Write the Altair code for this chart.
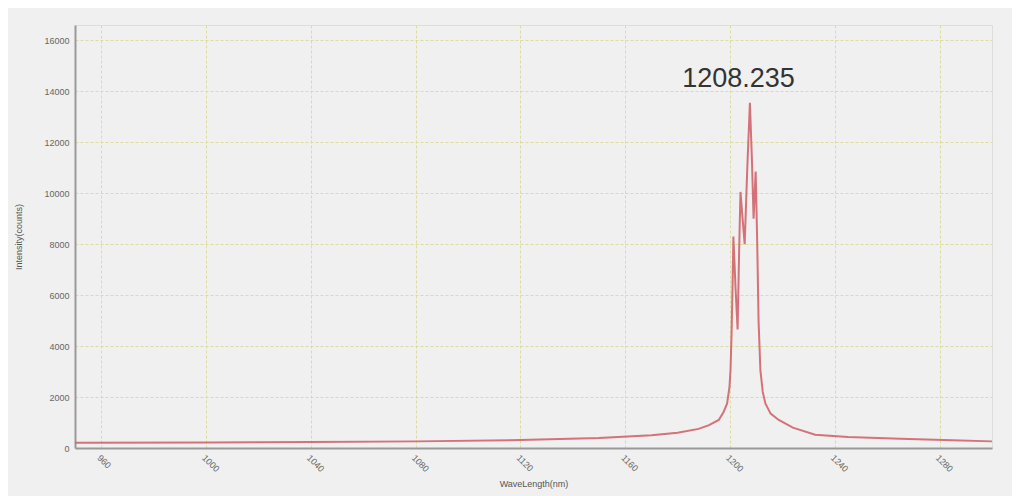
import altair as alt
import pandas as pd

# Spectrum values
wavelength = [950, 1000, 1040, 1080, 1120, 1150, 1170, 1180, 1188, 1192,
              1195.7, 1197.5, 1198.9, 1199.8, 1200.2, 1200.6, 1201.0, 1201.3,
              1202.1, 1202.9, 1203.5, 1204.0, 1204.8, 1205.6, 1206.6, 1207.6,
              1208.4, 1209.0, 1209.8, 1210.4, 1210.9, 1211.6, 1212.5, 1213.5,
              1215.5, 1218.6, 1224, 1232.5, 1245, 1265, 1285, 1300]
intensity = [210, 220, 235, 260, 310, 390, 500, 600, 750, 900,
             1100, 1400, 1750, 2400, 3050, 4500, 6500, 8300,
             6300, 4650, 7800, 10050, 9000, 8000, 11000, 13550,
             11200, 9000, 10850, 8000, 5000, 3050, 2200, 1750,
             1350, 1100, 800, 520, 430, 360, 300, 260]

x_ticks = [960, 1000, 1040, 1080, 1120, 1160, 1200, 1240, 1280]
y_ticks = [0, 2000, 4000, 6000, 8000, 10000, 12000, 14000, 16000]

peak_label = ["1208.235"]
peak_x = [1208.235]
peak_y = [14150]

spec = pd.DataFrame({"wl": wavelength, "cnt": intensity})
ann = pd.DataFrame({"label": peak_label, "wl": peak_x, "cnt": peak_y})

xscale = alt.Scale(domain=[950, 1300], nice=False, zero=False)
yscale = alt.Scale(domain=[0, 16600], nice=False)

line = alt.Chart(spec).mark_line(color="#d0646c", strokeWidth=2, opacity=0.9).encode(
    x=alt.X("wl:Q", scale=xscale,
            axis=alt.Axis(title="WaveLength(nm)", values=x_ticks, labelAngle=45, format="d",
                          grid=True, gridColor="#dcdca0", gridDash=[3, 2], gridWidth=1,
                          ticks=False, domainColor="#999999", domainWidth=2,
                          labelFontSize=9, labelColor="#666666", labelPadding=5,
                          titleFontSize=9, titleColor="#555555", titleFontWeight="normal",
                          titlePadding=6)),
    y=alt.Y("cnt:Q", scale=yscale,
            axis=alt.Axis(title="Intensity(counts)", values=y_ticks, format="d",
                          grid=True, gridColor="#dcdca0", gridDash=[3, 2], gridWidth=1,
                          ticks=False, domainColor="#999999", domainWidth=2,
                          labelFontSize=9, labelColor="#666666", labelPadding=6,
                          titleFontSize=9, titleColor="#555555", titleFontWeight="normal",
                          titlePadding=20)),
)

text = alt.Chart(ann).mark_text(fontSize=27, color="#333333", font="Liberation Sans",
                                 baseline="alphabetic", align="center", dx=-13).encode(
    x=alt.X("wl:Q", scale=xscale),
    y=alt.Y("cnt:Q", scale=yscale),
    text="label:N",
)

chart = (line + text).properties(
    width=917, height=423,
    autosize=alt.AutoSizeParams(type="none"),
    padding={"left": 67, "top": 17, "right": 20, "bottom": 48},
    background="#f0f0f0",
).configure_view(stroke=None, fill="#f2f2f2").configure(font="Liberation Sans")

chart.save("out.html", embed_options={"renderer": "svg", "actions": False})
